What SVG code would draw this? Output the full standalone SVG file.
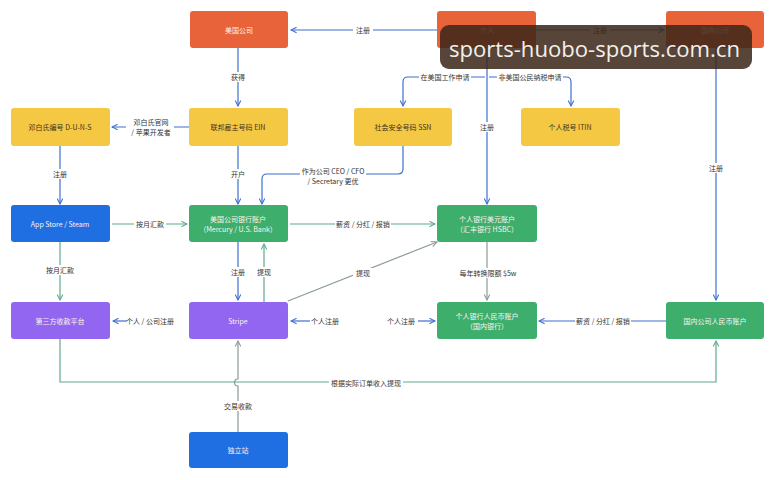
<svg xmlns="http://www.w3.org/2000/svg" width="776" height="480" viewBox="0 0 776 480">
<defs>
<marker id="ab" viewBox="0 0 10 10" refX="9" refY="5" markerWidth="7" markerHeight="7" orient="auto-start-reverse" markerUnits="userSpaceOnUse"><path d="M1,1 L9,5 L1,9" fill="none" stroke="#3d6fd0" stroke-width="1.5"/></marker>
<marker id="ag" viewBox="0 0 10 10" refX="9" refY="5" markerWidth="7" markerHeight="7" orient="auto-start-reverse" markerUnits="userSpaceOnUse"><path d="M1,1 L9,5 L1,9" fill="none" stroke="#5fa98a" stroke-width="1.5"/></marker>
<marker id="ay" viewBox="0 0 10 10" refX="9" refY="5" markerWidth="7" markerHeight="7" orient="auto-start-reverse" markerUnits="userSpaceOnUse"><path d="M1,1 L9,5 L1,9" fill="none" stroke="#8a9a94" stroke-width="1.5"/></marker>
</defs>
<style>
text{font-family:"Noto Sans CJK SC","Noto Sans",sans-serif;font-size:7px;text-anchor:middle;dominant-baseline:central}
.n rect{rx:3;ry:3}
.or{fill:#e8633a}.ye{fill:#f5c843}.bl{fill:#1f6fe3}.gr{fill:#3dae6c}.pu{fill:#9366f2}
.tl{fill:#fdf3ea}.td{fill:#3a3320}
.cb{fill:none;stroke:#3d6fd0;stroke-width:1.2}
.cg{fill:none;stroke:#5fa98a;stroke-width:1.2}
.cy{fill:none;stroke:#8a9a94;stroke-width:1.2}
.lb{fill:#333}
.lbg{fill:#fff}
</style>
<rect width="776" height="480" fill="#ffffff"/>
<g id="connectors">
<path class="cb" d="M437,30 H291" marker-end="url(#ab)"/>
<rect class="lbg" x="353" y="25" width="20" height="10"/><text class="lb" x="363" y="30">注册</text>
<path class="cb" d="M536,30 H664" marker-end="url(#ab)"/>
<rect class="lbg" x="590" y="25" width="20" height="10"/><text class="lb" x="600" y="30">注册</text>
<path class="cb" d="M238,48 V106" marker-end="url(#ab)"/>
<rect class="lbg" x="228" y="72" width="20" height="10"/><text class="lb" x="238" y="77">获得</text>
<path class="cb" d="M189,127 H112" marker-end="url(#ab)"/>
<rect class="lbg" x="126" y="116" width="48" height="22"/>
<text class="lb" x="151" y="122">邓白氏官网</text><text class="lb" x="151" y="132">/ 苹果开发者</text>
<path class="cb" d="M487,48 V204" marker-end="url(#ab)"/>
<rect class="lbg" x="477" y="122" width="20" height="10"/><text class="lb" x="487" y="127">注册</text>
<path class="cb" d="M485,77 H408 Q403,77 403,82 V106" marker-end="url(#ab)"/>
<rect class="lbg" x="419" y="72" width="52" height="10"/><text class="lb" x="445" y="77">在美国工作申请</text>
<path class="cb" d="M489,77 H566 Q571,77 571,82 V106" marker-end="url(#ab)"/>
<rect class="lbg" x="497" y="72" width="66" height="10"/><text class="lb" x="530" y="77">非美国公民纳税申请</text>
<path class="cb" d="M403,146 V169 Q403,174 398,174 H267 Q262,174 262,179 V204" marker-end="url(#ab)"/>
<rect class="lbg" x="300" y="165" width="66" height="22"/>
<text class="lb" x="333" y="171">作为公司 CEO / CFO</text><text class="lb" x="333" y="181">/ Secretary 更优</text>
<path class="cb" d="M238,146 V204" marker-end="url(#ab)"/>
<rect class="lbg" x="228" y="169" width="20" height="10"/><text class="lb" x="238" y="174">开户</text>
<path class="cb" d="M60,146 V204" marker-end="url(#ab)"/>
<rect class="lbg" x="50" y="169" width="20" height="10"/><text class="lb" x="60" y="174">注册</text>
<path class="cg" d="M112,224 H187" marker-end="url(#ag)"/>
<rect class="lbg" x="134" y="219" width="32" height="10"/><text class="lb" x="150" y="224">按月汇款</text>
<path class="cg" d="M60,242 V300" marker-end="url(#ag)"/>
<rect class="lbg" x="44" y="265" width="32" height="10"/><text class="lb" x="60" y="270">按月汇款</text>
<path class="cb" d="M238,242 V300" marker-end="url(#ab)"/>
<rect class="lbg" x="228" y="267" width="20" height="10"/><text class="lb" x="238" y="272">注册</text>
<path class="cg" d="M264,302 V244" marker-end="url(#ag)"/>
<rect class="lbg" x="254" y="267" width="20" height="10"/><text class="lb" x="264" y="272">提现</text>
<path class="cg" d="M290,224 H435" marker-end="url(#ag)"/>
<rect class="lbg" x="335" y="219" width="56" height="10"/><text class="lb" x="363" y="224">薪资 / 分红 / 报销</text>
<path class="cy" d="M288,301 L437,242" marker-end="url(#ay)"/>
<rect class="lbg" x="353" y="268" width="20" height="10"/><text class="lb" x="363" y="273">提现</text>
<path class="cy" d="M487,242 V300" marker-end="url(#ay)"/>
<rect class="lbg" x="459" y="268" width="58" height="10"/><text class="lb" x="488" y="273">每年转换限额 $5w</text>
<path class="cb" d="M666,321 H539" marker-end="url(#ab)"/>
<rect class="lbg" x="575" y="316" width="56" height="10"/><text class="lb" x="603" y="321">薪资 / 分红 / 报销</text>
<text class="lb" x="401" y="321">个人注册</text>
<path class="cb" d="M418,321 H435" marker-end="url(#ab)"/>
<text class="lb" x="325" y="321">个人注册</text>
<path class="cb" d="M310,321 H291" marker-end="url(#ab)"/>
<text class="lb" x="150" y="321">个人 / 公司注册</text>
<path class="cb" d="M127,321 H113" marker-end="url(#ab)"/>
<path class="cb" d="M716,48 V300" marker-end="url(#ab)"/>
<rect class="lbg" x="706" y="163" width="20" height="10"/><text class="lb" x="716" y="168">注册</text>
<path class="cg" d="M60,339 V382 H716 V341" marker-end="url(#ag)"/>
<rect class="lbg" x="329" y="377" width="74" height="10"/><text class="lb" x="366" y="383">根据实际订单收入提现</text>
<path class="cy" d="M238,432 V386 A3,3 0 0 1 238,379 V341" marker-end="url(#ay)"/>
<rect class="lbg" x="222" y="401" width="32" height="10"/><text class="lb" x="238" y="406">交易收款</text>
</g>
<g id="n-uscompany" class="n"><rect class="or" x="190" y="11" width="98" height="37"/><text class="tl" x="239" y="30">美国公司</text></g>
<g id="n-person" class="n"><rect class="or" x="437" y="11" width="99" height="37"/><text class="tl" x="487" y="30">个人</text></g>
<g id="n-cncompany" class="n"><rect class="or" x="666" y="11" width="98" height="37"/><text class="tl" x="715" y="30">国内公司</text></g>
<g id="n-duns" class="n"><rect class="ye" x="11" y="108" width="99" height="38"/><text class="td" x="60" y="127">邓白氏编号 D-U-N-S</text></g>
<g id="n-ein" class="n"><rect class="ye" x="189" y="108" width="99" height="38"/><text class="td" x="238" y="127">联邦雇主号码 EIN</text></g>
<g id="n-ssn" class="n"><rect class="ye" x="354" y="108" width="98" height="38"/><text class="td" x="403" y="127">社会安全号码 SSN</text></g>
<g id="n-itin" class="n"><rect class="ye" x="521" y="108" width="99" height="38"/><text class="td" x="570" y="127">个人税号 ITIN</text></g>
<g id="n-appstore" class="n"><rect class="bl" x="11" y="205" width="99" height="37"/><text class="tl" x="60" y="224">App Store / Steam</text></g>
<g id="n-usbank" class="n"><rect class="gr" x="189" y="205" width="99" height="37"/><text class="tl" x="238" y="219">美国公司银行账户</text><text class="tl" x="238" y="229">（Mercury / U.S. Bank）</text></g>
<g id="n-usd" class="n"><rect class="gr" x="437" y="205" width="100" height="37"/><text class="tl" x="487" y="219">个人银行美元账户</text><text class="tl" x="487" y="229">（汇丰银行 HSBC）</text></g>
<g id="n-thirdparty" class="n"><rect class="pu" x="11" y="302" width="99" height="37"/><text class="tl" x="60" y="321">第三方收款平台</text></g>
<g id="n-stripe" class="n"><rect class="pu" x="189" y="302" width="99" height="37"/><text class="tl" x="238" y="321">Stripe</text></g>
<g id="n-cny" class="n"><rect class="gr" x="437" y="302" width="100" height="37"/><text class="tl" x="487" y="316">个人银行人民币账户</text><text class="tl" x="487" y="326">（国内银行）</text></g>
<g id="n-cncny" class="n"><rect class="gr" x="666" y="302" width="98" height="37"/><text class="tl" x="715" y="321">国内公司人民币账户</text></g>
<g id="n-site" class="n"><rect class="bl" x="189" y="432" width="99" height="36"/><text class="tl" x="238" y="450">独立站</text></g>
<g id="watermark"><rect x="440" y="25" width="312" height="44" rx="9" ry="9" fill="#3b2619" fill-opacity="0.86"/><text x="449" y="48" textLength="291" lengthAdjust="spacingAndGlyphs" style="font-family:'Open Sans','Noto Sans',sans-serif;font-size:22px;text-anchor:start;fill:#f4efe9">sports-huobo-sports.com.cn</text></g>
</svg>
